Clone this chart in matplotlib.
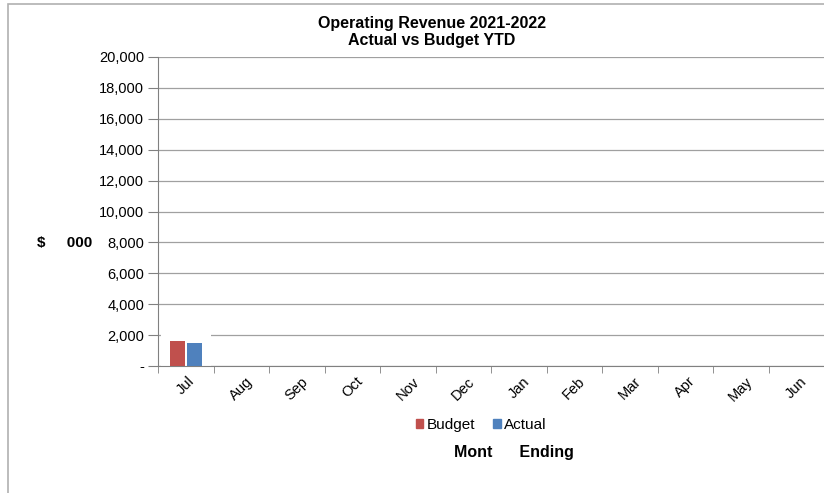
import matplotlib.pyplot as plt
import numpy as np
from matplotlib.patches import Rectangle

plt.rcParams['font.family'] = ['Liberation Sans', 'DejaVu Sans']

months = ['Jul', 'Aug', 'Sep', 'Oct', 'Nov', 'Dec', 'Jan', 'Feb', 'Mar', 'Apr', 'May', 'Jun']
budget = [1650]
actual = [1470]
yticks = np.arange(0, 20001, 2000)
ylabels = ['-'] + ['{:,}'.format(v) for v in yticks[1:]]

fig = plt.figure(figsize=(8.24, 4.93), dpi=100)
ax = fig.add_axes([158/824, 1-366/493, 1-158/824, 309/493])

# chart frame
fig.patches.append(Rectangle((8/824, -0.1), 1.2, 1-4/493+0.1, transform=fig.transFigure,
                             fill=False, edgecolor='#b0b0b0', lw=1.2))

x = np.arange(len(months))
w = 0.27
# white backing behind the populated month
ax.bar(x[:len(budget)], [max(budget[0], actual[0]) * 1.3], width=0.9, color='white', zorder=2)
ax.bar(x[:len(budget)] - 0.15, budget, width=w, color='#c0504d', zorder=3)
ax.bar(x[:len(actual)] + 0.15, actual, width=w, color='#4f81bd', zorder=3)

ax.set_xlim(-0.5, len(months) - 0.5)
ax.set_ylim(0, 20000)
ax.set_yticks(yticks)
ax.set_yticklabels(ylabels, fontsize=10.5)
ax.yaxis.grid(True, color='#a0a0a0', lw=0.9, zorder=1)
ax.set_axisbelow(True)

ax.set_xticks(x)
ax.set_xticklabels(months, rotation=45, fontsize=10.5, ha='center', va='top')
ax.tick_params(axis='x', length=0, pad=6)
ax.set_xticks(np.arange(-0.5, len(months), 1), minor=True)
ax.tick_params(axis='x', which='minor', length=5, color='#808080')
ax.tick_params(axis='y', length=7, pad=3, color='#808080')

for s in ['top', 'right']:
    ax.spines[s].set_visible(False)
for s in ['left', 'bottom']:
    ax.spines[s].set_color('#808080')

fig.text(432/824, 1-32/493, 'Operating Revenue 2021-2022\nActual vs Budget YTD',
         ha='center', va='center', fontsize=11.5, fontweight='bold', linespacing=1.15)
fig.text(37/824, 1-243/493, '$     000', fontsize=11, fontweight='bold', va='center')
fig.text(514/824, 1-452/493, 'Mont      Ending', fontsize=11.5, fontweight='bold', ha='center', va='center')

handles = [Rectangle((0, 0), 1, 1, color='#c0504d'), Rectangle((0, 0), 1, 1, color='#4f81bd')]
fig.legend(handles, ['Budget', 'Actual'], loc='center', bbox_to_anchor=(481/824, 1-425/493),
           ncol=2, frameon=False, fontsize=11, handlelength=0.5, handleheight=0.5,
           handletextpad=0.2, columnspacing=1.2)

fig.savefig('out.png', dpi=100)
